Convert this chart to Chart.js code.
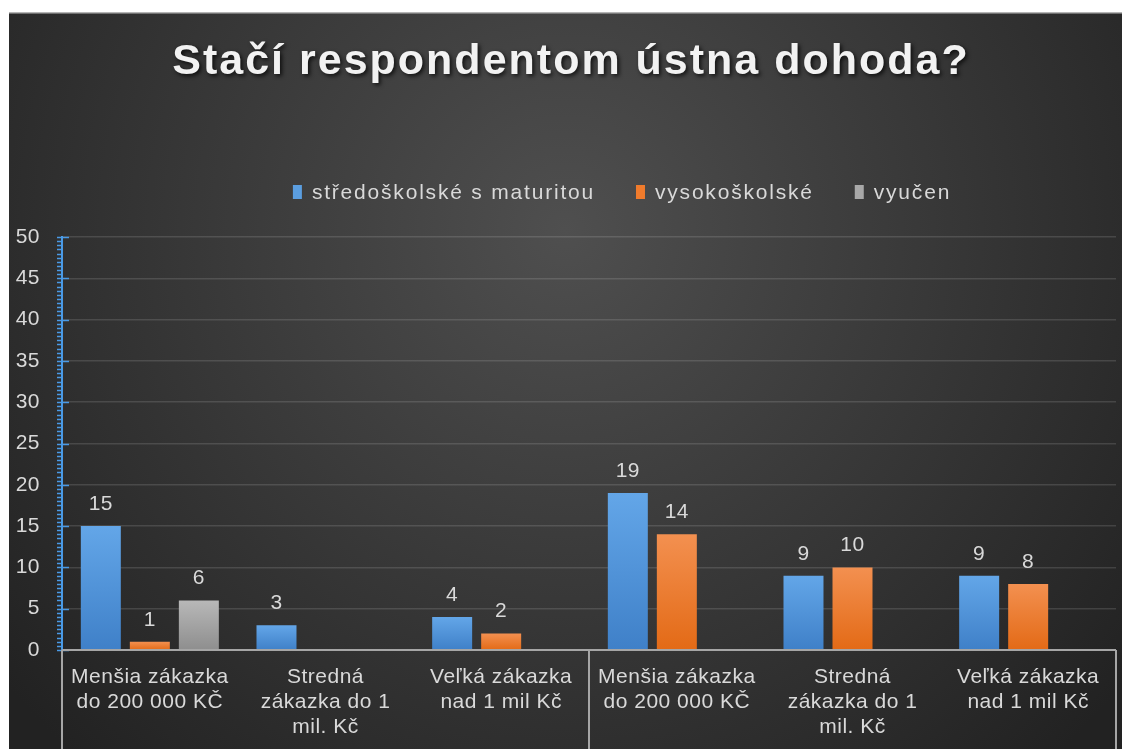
<!DOCTYPE html>
<html>
<head>
<meta charset="utf-8">
<script src="https://cdn.jsdelivr.net/npm/chart.js@4.4.0/dist/chart.umd.min.js"></script>
<style>
  html, body { margin: 0; padding: 0; background: #fff; overflow: hidden; }
  #wrap { width: 1122px; height: 749px; }
</style>
</head>
<body>
<div id="wrap"><canvas id="myChart"></canvas></div>
<script>
// Datos del gráfico
var categories = [
  ['Menšia zákazka', 'do 200 000 KČ'],
  ['Stredná', 'zákazka do 1', 'mil. Kč'],
  ['Veľká zákazka', 'nad 1 mil Kč'],
  ['Menšia zákazka', 'do 200 000 KČ'],
  ['Stredná', 'zákazka do 1', 'mil. Kč'],
  ['Veľká zákazka', 'nad 1 mil Kč']
];
var seriesNames = ['středoškolské s maturitou', 'vysokoškolské', 'vyučen'];
var stredoskolske = [15, 3, 4, 19, 9, 9];
var vysokoskolske = [1, null, 2, 14, 10, 8];
var vyucen = [6, null, null, null, null, null];
var yMin = 0, yMax = 50, yStep = 5;
var titleText = 'Stačí respondentom ústna dohoda?';

var textColor = '#d9d9d9';
var fontName = '"Liberation Sans", Arial, sans-serif';

// degradado vertical por barra
function barFill(top, bottom) {
  return function (c) {
    var chart = c.chart;
    var y = chart.scales.y;
    if (!chart.chartArea || c.raw == null || !y) return bottom;
    var g = chart.ctx.createLinearGradient(0, y.getPixelForValue(c.raw), 0, y.getPixelForValue(0));
    g.addColorStop(0, top);
    g.addColorStop(1, bottom);
    return g;
  };
}

var swatches = ['#5b9ee0', '#f07b2c', '#a8a8a8'];

var data = {
  labels: categories,
  datasets: [
    { label: seriesNames[0], data: stredoskolske, backgroundColor: barFill('#63a6e8', '#3f80c8') },
    { label: seriesNames[1], data: vysokoskolske, backgroundColor: barFill('#f39050', '#e36a16') },
    { label: seriesNames[2], data: vyucen, backgroundColor: barFill('#b8b8b8', '#8e8e8e') }
  ]
};

var decor = {
  id: 'decor',
  beforeDraw: function (chart) {
    var ctx = chart.ctx, w = chart.width, h = chart.height;
    ctx.save();
    ctx.fillStyle = '#fff';
    ctx.fillRect(0, 0, w, h);
    var g = ctx.createRadialGradient(565, 230, 0, 565, 230, 720);
    g.addColorStop(0, '#4f4f4f');
    g.addColorStop(1, '#222222');
    ctx.fillStyle = g;
    ctx.fillRect(9, 13, w - 9, h - 13);
    ctx.fillStyle = '#b5b5b5';
    ctx.fillRect(9, 12, w - 9, 1.5);
    ctx.restore();
    ctx.letterSpacing = '0.5px';
  },
  afterDatasetsDraw: function (chart) {
    var ctx = chart.ctx;
    ctx.save();
    ctx.font = '21px ' + fontName;
    ctx.letterSpacing = '0.5px';
    ctx.fillStyle = textColor;
    ctx.textAlign = 'center';
    ctx.textBaseline = 'alphabetic';
    chart.data.datasets.forEach(function (ds, i) {
      chart.getDatasetMeta(i).data.forEach(function (bar, j) {
        if (ds.data[j] == null) return;
        ctx.fillText(String(ds.data[j]), bar.x, bar.y - 16);
      });
    });
    ctx.restore();
  },
  afterDraw: function (chart) {
    var ctx = chart.ctx, a = chart.chartArea, ys = chart.scales.y, xs = chart.scales.x;
    ctx.save();
    // eje Y azul con marcas
    ctx.strokeStyle = '#4a9ae6';
    ctx.lineWidth = 2;
    ctx.beginPath();
    ctx.moveTo(a.left, ys.getPixelForValue(yMax) - 1);
    ctx.lineTo(a.left, ys.getPixelForValue(yMin));
    ctx.stroke();
    ctx.lineWidth = 1.5;
    for (var v = yMin; v <= yMax + 0.001; v += yStep / 10) {
      var py = Math.round(ys.getPixelForValue(v)) + 0.5;
      var major = Math.abs(v / yStep - Math.round(v / yStep)) < 0.001;
      ctx.beginPath();
      ctx.moveTo(a.left - 5, py);
      ctx.lineTo(major ? a.left + 7 : a.left, py);
      ctx.stroke();
    }
    // caja de categorías
    ctx.strokeStyle = '#a6a6a6';
    ctx.lineWidth = 2;
    var mid = (xs.getPixelForTick(2) + xs.getPixelForTick(3)) / 2;
    ctx.beginPath();
    ctx.moveTo(a.left, a.bottom);
    ctx.lineTo(a.right, a.bottom);
    [a.left, mid, a.right].forEach(function (px) {
      ctx.moveTo(px, a.bottom);
      ctx.lineTo(px, chart.height);
    });
    ctx.stroke();
    // título
    ctx.font = 'bold 43px ' + fontName;
    ctx.letterSpacing = '2px';
    ctx.textAlign = 'center';
    ctx.textBaseline = 'alphabetic';
    ctx.shadowColor = 'rgba(0,0,0,0.75)';
    ctx.shadowBlur = 4;
    ctx.shadowOffsetX = 2;
    ctx.shadowOffsetY = 2;
    ctx.fillStyle = '#f2f2f2';
    ctx.fillText(titleText, 571, 74);
    ctx.shadowColor = 'transparent';
    // leyenda
    ctx.font = '21px ' + fontName;
    ctx.letterSpacing = '1.8px';
    ctx.textAlign = 'left';
    var names = chart.data.datasets.map(function (d) { return d.label; });
    var widths = names.map(function (n) { return ctx.measureText(n).width; });
    var total = widths.reduce(function (s, w) { return s + w + 19; }, 0) + 41 * (names.length - 1);
    var lx = 622 - total / 2;
    names.forEach(function (n, i) {
      ctx.fillStyle = swatches[i];
      ctx.fillRect(lx, 185, 9, 14);
      ctx.fillStyle = textColor;
      ctx.fillText(n, lx + 19, 199);
      lx += 19 + widths[i] + 41;
    });
    ctx.restore();
  }
};

var options = {
  responsive: true,
  maintainAspectRatio: false,
  animation: false,
  layout: { padding: { top: 237, right: 6, bottom: 0, left: 0 } },
  plugins: {
    legend: { display: false },
    title: { display: false },
    tooltip: { enabled: false }
  },
  datasets: {
    bar: { categoryPercentage: 0.837, barPercentage: 0.816 }
  },
  scales: {
    x: {
      grid: { display: false, drawTicks: false },
      border: { display: false },
      ticks: {
        color: textColor,
        font: { family: fontName, size: 21, lineHeight: 1.19 },
        padding: 15,
        maxRotation: 0,
        autoSkip: false
      },
      afterFit: function (s) { s.height = 99; }
    },
    y: {
      min: yMin,
      max: yMax,
      grid: { color: 'rgba(255,255,255,0.13)', lineWidth: 1.5, drawTicks: false },
      border: { display: false },
      ticks: {
        stepSize: yStep,
        color: textColor,
        font: { family: fontName, size: 21 },
        padding: 22
      },
      afterFit: function (s) { s.width = 62; }
    }
  }
};

var ctx = document.getElementById('myChart').getContext('2d');
var myChart = new Chart(ctx, {
  type: 'bar',
  data: data,
  options: options,
  plugins: [decor]
});
</script>
</body>
</html>
